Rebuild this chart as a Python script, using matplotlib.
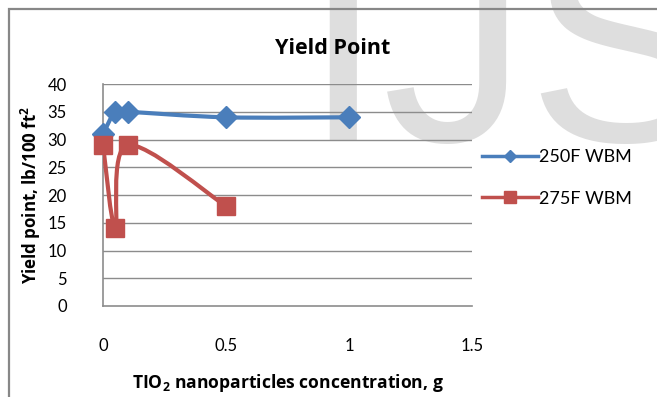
import numpy as np
import matplotlib
matplotlib.use("Agg")
import matplotlib.pyplot as plt
from matplotlib.path import Path
from matplotlib.patches import PathPatch, Rectangle
from matplotlib.lines import Line2D

# Yield point (lb/100 ft^2) vs TiO2 nanoparticle concentration (g)
conc_250 = [0.0, 0.05, 0.1, 0.5, 1.0]
yp_250 = [31, 35, 35, 34, 34]
conc_275 = [0.0, 0.05, 0.1, 0.5]
yp_275 = [29, 14, 29, 18]
series_names = ["250F WBM", "275F WBM"]
x_ticks = [0, 0.5, 1, 1.5]
x_tick_labels = ["0", "0.5", "1", "1.5"]
y_ticks = list(range(0, 45, 5))

BLUE = "#4a7ebb"
RED = "#c0504d"
FONT = ["Lato", "DejaVu Sans"]
BOLD_FONT = ["Open Sans", "DejaVu Sans"]


def smooth_path(xs, ys):
    """Cubic Bezier path through the points (spreadsheet-style smoothing)."""
    pts = np.column_stack([xs, ys]).astype(float)
    n = len(pts)
    verts = [pts[0]]
    codes = [Path.MOVETO]
    for i in range(n - 1):
        p0 = pts[i - 1] if i > 0 else pts[i]
        p1 = pts[i]
        p2 = pts[i + 1]
        p3 = pts[i + 2] if i + 2 < n else pts[i + 1]
        c1 = p1 + (p2 - p0) / 6.0
        c2 = p2 - (p3 - p1) / 6.0
        verts += [c1, c2, p2]
        codes += [Path.CURVE4] * 3
    return Path(verts, codes)


fig = plt.figure(figsize=(6.57, 3.97), dpi=100)
W, H = 657, 397

# background watermark
fig.text(302 / W, 1 - 141 / H, "IJS", fontsize=209, family="Liberation Sans",
         color="#dedede", ha="left", va="baseline", zorder=-5)

# chart frame
fig.patches.append(Rectangle((8.5 / W, -0.1), 1.2, 1 - 9.5 / H + 0.1,
                             transform=fig.transFigure, fill=False,
                             edgecolor="#878787", linewidth=1.6, zorder=-1))

ax = fig.add_axes([103 / W, 1 - 306 / H, 369 / W, 222 / H])
ax.patch.set_alpha(0)
ax.set_xlim(0, 1.5)
ax.set_ylim(0, 40)

for y in y_ticks[1:]:
    ax.axhline(y, color="#8c8c8c", linewidth=1.0, zorder=1)

for s in ["top", "right"]:
    ax.spines[s].set_visible(False)
for s in ["left", "bottom"]:
    ax.spines[s].set_color("#8c8c8c")
    ax.spines[s].set_linewidth(1.2)

ax.set_xticks(x_ticks)
ax.set_xticklabels(x_tick_labels)
ax.set_yticks(y_ticks)
ax.tick_params(length=0)
ax.tick_params(axis="x", pad=23)
ax.tick_params(axis="y", pad=26)
for lab in ax.get_xticklabels() + ax.get_yticklabels():
    lab.set_fontfamily(FONT)
    lab.set_fontsize(12)

# series: smoothed lines plus markers
ax.add_patch(PathPatch(smooth_path(conc_250, yp_250), fill=False,
                       edgecolor=BLUE, linewidth=3.0, zorder=3,
                       capstyle="round", joinstyle="round"))
ax.plot(conc_250, yp_250, linestyle="none", marker="D", markersize=11,
        color=BLUE, markeredgecolor=BLUE, zorder=4, clip_on=False)

ax.add_patch(PathPatch(smooth_path(conc_275, yp_275), fill=False,
                       edgecolor=RED, linewidth=3.0, zorder=3,
                       capstyle="round", joinstyle="round"))
ax.plot(conc_275, yp_275, linestyle="none", marker="s", markersize=12.5,
        color=RED, markeredgecolor=RED, zorder=5, clip_on=False)

ax.set_title("Yield Point", fontsize=15.5, fontweight="bold", family=BOLD_FONT,
             x=(333 - 103) / 369, y=1.0, pad=21.5)
ax.set_xlabel("TIO$_\\mathregular{2}$ nanoparticles concentration, g",
              fontsize=12.6, fontweight="bold", family=BOLD_FONT, labelpad=13)
ax.set_ylabel("Yield point, lb/100 ft$^\\mathregular{2}$", fontsize=12.2,
              fontweight="bold", family=BOLD_FONT, labelpad=3)

handles = [
    Line2D([], [], color=BLUE, linewidth=2.5, marker="D", markersize=6),
    Line2D([], [], color=RED, linewidth=2.5, marker="s", markersize=8),
]
fig.legend(handles, series_names, loc="center left",
           bbox_to_anchor=(466 / W, 1 - 178 / H), frameon=False,
           prop={"family": FONT, "size": 13}, handlelength=3.1,
           handletextpad=0.05, labelspacing=1.4)

fig.savefig("out.png", dpi=100)
